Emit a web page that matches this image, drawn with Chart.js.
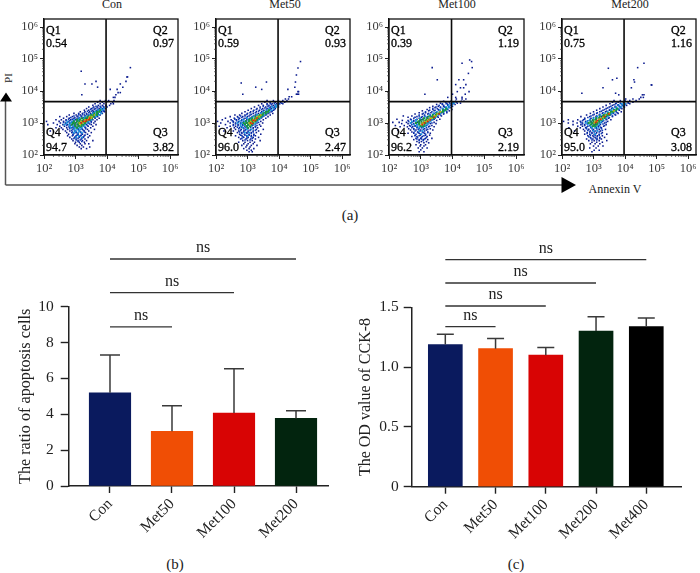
<!DOCTYPE html>
<html>
<head>
<meta charset="utf-8">
<script src="https://cdn.jsdelivr.net/npm/chart.js@4"></script>
<style>
html, body { margin: 0; padding: 0; background: #fff; }
body { width: 700px; height: 573px; position: relative; overflow: hidden; font-family: "Liberation Serif", serif; color: #222; }
canvas { position: absolute; }
.txt { position: absolute; white-space: nowrap; transform: translate(-50%, -50%); }
svg { position: absolute; left: 0; top: 0; }
</style>
</head>
<body>
<svg width="700" height="573">
  <path d="M5.5 185 V100 M5.5 185 H562" fill="none" stroke="#555" stroke-width="1.5"/>
  <path d="M6 92.5 L12 101.5 L0 101.5 Z M576 185 L561.5 177 L561.5 193 Z" fill="#000"/>
</svg>
<div class="txt" style="left:112px;top:4px;font-size:12px">Con</div>
<div class="txt" style="left:285px;top:4px;font-size:12px">Met50</div>
<div class="txt" style="left:457px;top:4px;font-size:12px">Met100</div>
<div class="txt" style="left:630px;top:4px;font-size:12px">Met200</div>
<div class="txt" style="left:8px;top:78px;font-size:11px;transform:translate(-50%,-50%) rotate(-90deg)">PI</div>
<div class="txt" style="left:615px;top:189px;font-size:12px">Annexin V</div>
<div class="txt" style="left:350px;top:215px;font-size:15px">(a)</div>
<div class="txt" style="left:175px;top:564px;font-size:15px">(b)</div>
<div class="txt" style="left:516px;top:564px;font-size:15px">(c)</div>

<canvas id="flow0"></canvas>
<canvas id="flow1"></canvas>
<canvas id="flow2"></canvas>
<canvas id="flow3"></canvas>
<canvas id="ratioChart"></canvas>
<canvas id="odChart"></canvas>

<script>
const ratioCats = ["Con", "Met50", "Met100", "Met200"];
const ratioVals = [5.2, 3.05, 4.07, 3.77];
const ratioErrTop = [7.3, 4.48, 6.54, 4.2];
const ratioBrackets = [[0, 1, 8.88], [0, 2, 10.78], [0, 3, 12.66]];

const odCats = ["Con", "Met50", "Met100", "Met200", "Met400"];
const odVals = [1.188, 1.154, 1.1, 1.302, 1.338];
const odErrTop = [1.274, 1.24, 1.163, 1.422, 1.41];
const odBrackets = [[0, 1, 1.338], [0, 2, 1.511], [0, 3, 1.703], [0, 4, 1.898]];

const barColors = ["#0a1a5e", "#f04e05", "#d80404", "#02240e", "#000000"];

const quadCon = ["0.54", "0.97", "94.7", "3.82"];
const quad50 = ["0.59", "0.93", "96.0", "2.47"];
const quad100 = ["0.39", "1.19", "96.2", "2.19"];
const quad200 = ["0.75", "1.16", "95.0", "3.08"];

const gateX = [9300, 9300, 9300, 9300];
const gateY = [4650, 4650, 4650, 4650];
const flowTicks = [1e2, 1e3, 1e4, 1e5, 1e6];
const flowTickText = ["10\u00B2", "10\u00B3", "10\u2074", "10\u2075", "10\u2076"];

const conBlue = [
[4.73,4.74],[4.62,3.18],[4.44,4.63,4.65],[4.3,3.65,4.6],[4.22,3.3,3.52,4.42],[4.12,3.7,4.5],[4.05,4.32,4.1],[3.95,4.35,4.42],[3.88,3.2,4.28],[3.8,4.25,4.2],
[3.7,3.78,3.95,4.05,4.22],[3.65,3.7,3.85,3.98,4.18],[3.6,3.62,3.78,3.9,4.12,4.2],[3.55,3.55,3.72,3.85,3.96,4.08],[3.5,3.42,3.58,3.7,3.8,3.9,4.0],
[3.45,3.35,3.5,3.62,3.75,3.85,3.95],[3.4,3.28,3.42,3.55,3.68,3.8,3.9],[3.35,3.15,3.3,3.45,3.58,3.7,3.82,3.92],[3.3,2.95,3.1,3.22,3.35,3.48,3.6,3.72,3.85],
[3.25,2.8,3.02,3.15,3.28,3.4,3.52,3.65,3.78],[3.2,2.5,2.72,2.9,3.05,3.18,3.3,3.45,3.58,3.7],[3.15,2.62,2.8,2.95,3.08,3.22,3.35,3.5,3.62,3.75],
[3.1,2.38,2.55,2.7,2.85,3.0,3.12,3.28,3.42,3.55,3.68],[3.05,2.08,2.48,2.62,2.78,2.92,3.05,3.2,3.35,3.5,3.62],[3.0,2.3,2.52,2.68,2.82,2.98,3.12,3.28,3.42,3.58],
[2.95,2.12,2.42,2.6,2.75,2.9,3.05,3.2,3.35,3.5,3.65],[2.9,2.5,2.65,2.8,2.95,3.1,3.25,3.4,3.55],[2.85,2.38,2.55,2.72,2.88,3.02,3.18,3.32,3.48],
[2.8,2.6,2.75,2.92,3.08,3.22,3.38,3.6],[2.75,2.2,2.68,2.82,2.98,3.12,3.28,3.42],[2.7,2.72,2.88,3.02,3.18,3.32,3.5],[2.65,2.78,2.92,3.08,3.22,3.38],
[2.6,2.75,2.9,3.02,3.15,3.28,3.45],[2.55,2.82,2.98,3.12,3.25,3.4],[2.5,2.88,3.02,3.18,3.3],[2.45,2.92,3.08,3.22,3.35,3.55],[2.4,3.0,3.12,3.28],
[2.35,2.98,3.15,3.3,3.42],[2.3,3.05,3.2],[2.25,3.12,3.25,3.45],[2.2,3.18,3.35]];
const conMid = [[3.52,3.65,3.78,3.88,3.98],[3.47,3.55,3.68,3.8,3.9],[3.42,3.48,3.6,3.72,3.85],[3.37,3.38,3.52,3.65,3.78,3.88],[3.32,3.28,3.42,3.55,3.68,3.8],
[3.27,3.1,3.22,3.35,3.48,3.6,3.72],[3.22,2.95,3.08,3.2,3.32,3.42,3.55,3.68],[3.17,2.85,2.98,3.12,3.25,3.38,3.5,3.62],[3.12,2.78,2.9,3.02,3.15,3.28,3.4,3.52],
[3.07,2.7,2.82,2.95,3.08,3.22,3.35,3.48],[3.02,2.62,2.75,2.88,3.02,3.15,3.28,3.4,3.5],[2.97,2.7,2.82,2.95,3.08,3.2,3.32,3.45],[2.92,2.72,2.85,2.98,3.12,3.25,3.38],
[2.87,2.8,2.92,3.05,3.18,3.3],[2.82,2.82,2.95,3.08,3.2,3.32],[2.77,2.88,3.0,3.12,3.25],[2.72,2.9,3.02,3.15,3.28],[2.67,2.95,3.08,3.2],[2.62,2.92,3.05,3.18,3.3],
[2.57,3.0,3.12,3.25],[2.52,2.95,3.08,3.2],[2.47,3.02,3.15],[2.42,3.08,3.2]];
const conCyan = [[3.45,3.82,3.9],[3.4,3.72,3.85],[3.35,3.62,3.78],[3.3,3.55,3.7,3.82],[3.25,3.45,3.62,3.75],[3.2,3.3,3.52,3.65],[3.15,3.12,3.28,3.45],[3.1,2.95,3.08,3.5],
[3.05,2.75,2.88,3.42],[3.0,2.72,2.85,3.38],[2.95,2.65,2.8,3.3],[2.9,2.82,2.92,3.25],[2.85,2.85,2.98,3.12,3.2],[2.8,2.95,3.05,3.15],[2.75,3.0,3.12],[2.7,2.95,3.08,3.2],[2.6,3.1],[2.55,3.02,3.2]];
const conGreen = [[3.4,3.78],[3.35,3.68,3.75],[3.3,3.6,3.68],[3.25,3.5,3.58,3.68],[3.2,3.38,3.48,3.58],[3.15,3.2,3.32,3.4,3.52],[3.1,3.05,3.15,3.25,3.35,3.45],
[3.05,2.95,3.05,3.12,3.22,3.35],[3.0,2.92,3.0,3.1,3.2,3.3],[2.95,2.88,2.98,3.08,3.18,3.25],[2.9,3.0,3.1,3.18],[2.85,3.05]];
const conYellow = [[3.25,3.6],[3.2,3.45,3.52],[3.15,3.42,3.5],[3.1,3.3,3.38],[3.05,3.18,3.28],[3.0,3.12,3.22],[2.95,3.15]];
const conRed = [[3.15,3.45],[3.1,3.35,3.42],[3.05,3.25,3.32],[3.0,3.18]];

const m50Blue = [
[4.92,4.68],[4.72,4.6],[4.5,4.55],[4.28,3.6,4.52],[4.25,2.8],[4.12,3.26,4.5],[4.05,3.45,4.28],[3.98,4.6,4.62],[3.9,2.85,4.62,4.58,4.55],[3.82,4.32,4.4],[3.75,4.2,4.3],
[3.7,3.62,3.82,3.98,4.12,4.25],[3.65,3.55,3.72,3.88,4.05,4.18],[3.6,3.45,3.62,3.78,3.92,4.02,4.12],[3.55,3.35,3.5,3.68,3.82,3.95],[3.5,3.22,3.4,3.58,3.72,3.85,3.98],
[3.45,3.12,3.3,3.48,3.62,3.75,3.88],[3.4,3.02,3.2,3.38,3.52,3.68,3.82],[3.35,2.92,3.1,3.28,3.45,3.6,3.75],[3.3,2.82,3.0,3.18,3.35,3.5,3.65,3.8],
[3.25,2.6,2.75,2.92,3.08,3.25,3.42,3.58,3.72],[3.2,2.45,2.68,2.85,3.0,3.15,3.32,3.48,3.65],[3.15,2.3,2.58,2.75,2.92,3.08,3.25,3.42,3.58],
[3.1,2.2,2.48,2.65,2.82,2.98,3.15,3.32,3.5],[3.05,2.05,2.38,2.55,2.72,2.88,3.05,3.22,3.42],[3.0,2.15,2.45,2.62,2.78,2.95,3.12,3.3,3.48],
[2.95,2.3,2.55,2.7,2.85,3.02,3.18,3.38],[2.9,2.1,2.45,2.62,2.78,2.92,3.08,3.25,3.42],[2.85,2.35,2.58,2.75,2.88,3.02,3.18,3.32],[2.8,2.62,2.8,2.95,3.1,3.28,3.5],
[2.75,2.25,2.55,2.72,2.88,3.02,3.18,3.35],[2.7,2.68,2.82,2.98,3.12,3.28],[2.65,2.75,2.9,3.05,3.2,3.42],[2.6,2.62,2.82,2.98,3.12,3.25],[2.55,2.72,2.88,3.02,3.18,3.35],
[2.5,2.78,2.95,3.1,3.25],[2.45,2.85,3.0,3.15,3.4],[2.4,2.72,2.92,3.08,3.22],[2.35,2.88,3.02,3.18],[2.3,2.82,2.98,3.12,3.3],[2.25,2.95,3.08],[2.2,2.88,3.05,3.2],[2.15,2.98,3.12],[2.1,3.05,3.15]];
const m50Mid = [[3.62,3.72,3.85,3.98,4.08],[3.57,3.62,3.75,3.88,3.98],[3.52,3.5,3.65,3.78,3.9],[3.47,3.4,3.55,3.7,3.82],[3.42,3.28,3.45,3.6,3.72,3.85],[3.37,3.18,3.35,3.5,3.65,3.78],
[3.32,3.08,3.25,3.42,3.55,3.7],[3.27,2.98,3.12,3.3,3.45,3.6],[3.22,2.78,2.92,3.05,3.2,3.38,3.52],[3.17,2.7,2.82,2.98,3.12,3.3,3.45],[3.12,2.6,2.72,2.88,3.05,3.22,3.38],
[3.07,2.52,2.65,2.8,2.95,3.12,3.3],[3.02,2.55,2.7,2.85,3.0,3.18,3.35],[2.97,2.62,2.78,2.92,3.08,3.25],[2.92,2.55,2.7,2.85,3.0,3.15,3.3],[2.87,2.68,2.82,2.95,3.1,3.25],
[2.82,2.72,2.88,3.02,3.18],[2.77,2.78,2.92,3.08,3.25],[2.72,2.75,2.88,3.02,3.18],[2.67,2.82,2.98,3.12],[2.62,2.78,2.92,3.05,3.2],[2.57,2.85,2.98,3.12],[2.52,2.82,2.98,3.15],[2.47,2.92,3.08]];
const m50Cyan = [[3.6,3.98],[3.55,3.88,3.95],[3.5,3.78,3.9],[3.45,3.68,3.82],[3.4,3.6,3.75],[3.35,3.5,3.68],[3.3,3.42,3.6],[3.25,3.3,3.52],[3.2,3.18,3.45],[3.15,2.98,3.12,3.4],
[3.1,2.85,3.02,3.35],[3.05,2.75,2.9,3.3],[3.0,2.68,2.82,3.25],[2.95,2.78,2.88,3.2],[2.9,2.78,2.95,3.12],[2.85,2.85,3.0],[2.8,2.98,3.12],[2.7,2.92,3.05],[2.6,3.0]];
const m50Green = [[3.4,3.68],[3.35,3.58,3.65],[3.3,3.5,3.58],[3.25,3.38,3.48],[3.2,3.25,3.35,3.42],[3.15,3.15,3.25,3.35],[3.1,3.05,3.12,3.22,3.3],[3.05,2.95,3.05,3.15,3.25],
[3.0,2.88,2.98,3.08,3.18],[2.95,2.92,3.02,3.12],[2.9,2.98,3.08],[2.85,3.02]];
const m50Yellow = [[3.25,3.42],[3.2,3.32,3.38],[3.15,3.28],[3.1,3.18,3.25],[3.05,3.1,3.2],[3.0,3.05,3.12],[2.95,3.08]];
const m50Red = [[3.15,3.3],[3.08,3.18,3.25],[3.0,3.1],[2.98,3.16]];

const m100Blue = [
[4.97,4.54],[4.92,4.6],[4.87,4.3],[4.73,3.36,4.62],[4.55,4.5],[4.35,3.52,4.2,4.35],[4.2,4.1,4.42],[4.1,4.25,4.35],[3.98,4.15,4.52],[3.9,3.13,4.0,4.4],[3.8,3.85,4.1,4.3],[3.75,4.12,4.3,4.42],
[3.68,3.72,3.95,4.1,4.28,4.36],[3.62,3.62,3.82,3.98,4.15,4.25],[3.58,3.5,3.68,3.85,3.98,4.08],[3.52,3.38,3.55,3.72,3.88,4.0],[3.48,3.28,3.45,3.62,3.78,3.92],
[3.42,3.2,3.38,3.55,3.7,3.85,3.98],[3.38,3.05,3.25,3.42,3.58,3.75,3.9],[3.32,2.95,3.15,3.32,3.48,3.65,3.82],[3.28,2.82,3.05,3.22,3.4,3.55,3.72],
[3.22,2.45,2.72,2.95,3.12,3.3,3.48,3.65],[3.18,2.6,2.82,3.02,3.2,3.38,3.55],[3.12,2.25,2.68,2.88,3.05,3.25,3.42,3.6],[3.08,2.42,2.6,2.78,2.98,3.15,3.32,3.5],
[3.02,2.12,2.32,2.55,2.72,2.9,3.08,3.25,3.42],[2.98,2.4,2.6,2.78,2.95,3.12,3.3,3.48],[2.92,2.2,2.48,2.65,2.82,3.0,3.18,3.35],[2.88,2.35,2.58,2.75,2.9,3.05,3.25,3.42],
[2.82,2.62,2.78,2.95,3.12,3.3],[2.78,2.28,2.68,2.85,3.0,3.18,3.38],[2.72,2.72,2.9,3.05,3.22],[2.68,2.6,2.78,2.95,3.12,3.3],[2.62,2.82,2.98,3.15,3.28],[2.58,2.72,2.88,3.05,3.2],
[2.52,2.85,3.0,3.15,3.35],[2.48,2.78,2.95,3.08,3.22],[2.42,2.88,3.02,3.18],[2.38,2.95,3.1,3.25],[2.32,2.85,3.0,3.15],[2.28,2.98,3.1],[2.22,2.92,3.05,3.2],[2.16,3.0],[2.1,2.95,3.1]];
const m100Mid = [[3.65,3.78,3.9,4.02,4.12],[3.6,3.68,3.8,3.92,4.02],[3.55,3.58,3.72,3.85,3.95],[3.5,3.48,3.62,3.75,3.88],[3.45,3.38,3.52,3.68,3.82],[3.4,3.28,3.45,3.6,3.75],[3.35,3.15,3.35,3.5,3.68,3.82],
[3.3,3.08,3.25,3.42,3.58,3.72],[3.25,2.95,3.12,3.3,3.48,3.62],[3.2,2.88,3.05,3.22,3.4,3.52],[3.15,2.78,2.95,3.12,3.3,3.45],[3.1,2.7,2.85,3.02,3.2,3.38],[3.05,2.62,2.78,2.95,3.12,3.3],
[3.0,2.68,2.85,3.02,3.2,3.35],[2.95,2.72,2.88,3.05,3.22],[2.9,2.68,2.82,2.98,3.12,3.28],[2.85,2.72,2.88,3.02,3.18],[2.8,2.78,2.92,3.08,3.22],[2.75,2.82,2.98,3.12],[2.7,2.78,2.92,3.08,3.22],
[2.65,2.85,3.0,3.15],[2.6,2.82,2.95,3.1],[2.55,2.9,3.02,3.18],[2.5,2.88,3.02,3.12],[2.45,2.95,3.08]];
const m100Cyan = [[3.62,3.98,4.05],[3.55,3.88,3.98],[3.5,3.8,3.9],[3.45,3.7,3.85],[3.4,3.6,3.78],[3.35,3.5,3.72],[3.3,3.4,3.62],[3.25,3.28,3.55],[3.2,3.15,3.48],[3.15,2.98,3.42],
[3.1,2.85,3.35],[3.05,2.72,2.85,3.3],[3.0,2.68,3.25],[2.95,2.78,2.9,3.2],[2.9,2.88,3.02,3.15],[2.85,2.95,3.08],[2.75,2.95,3.05],[2.65,3.02]];
const m100Green = [[3.45,3.8],[3.4,3.7,3.78],[3.35,3.62,3.7],[3.3,3.5,3.58],[3.25,3.38,3.48],[3.2,3.25,3.35,3.45],[3.15,3.1,3.2,3.32,3.4],[3.1,2.98,3.08,3.18,3.28],
[3.05,2.92,3.02,3.12,3.22],[3.0,2.85,2.95,3.05,3.15],[2.95,2.95,3.05,3.12],[2.9,3.0,3.08]];
const m100Yellow = [[3.35,3.62],[3.28,3.52],[3.22,3.42,3.48],[3.15,3.3,3.35],[3.1,3.22,3.28],[3.05,3.12,3.18],[3.0,3.05,3.1],[2.95,3.02]];
const m100Red = [[3.28,3.58],[3.18,3.42],[3.1,3.3],[3.05,3.22],[3.0,3.12],[2.95,3.05]];

const m200Blue = [
[4.87,4.6],[4.73,4.4],[4.71,3.47],[4.4,3.74],[4.35,4.28,3.6],[4.28,4.3],[4.19,4.83,4.85],[4.1,3.3,4.2],[3.93,2.63,3.7],[3.88,4.6,4.55,3.8],[3.8,4.5,4.58],[3.75,4.02,4.25,4.45],
[3.7,3.65,3.85,4.0,4.15,4.35],[3.65,3.6,3.78,3.95,4.1,4.25],[3.6,3.52,3.7,3.88,4.02,4.15],[3.55,3.4,3.6,3.78,3.92,4.05],[3.5,3.3,3.5,3.68,3.85,3.98],
[3.45,3.2,3.4,3.58,3.75,3.9],[3.4,3.1,3.3,3.5,3.65,3.82],[3.35,3.0,3.2,3.38,3.55,3.72,3.88],[3.3,2.9,3.1,3.28,3.45,3.62,3.78],
[3.25,2.78,2.98,3.18,3.35,3.52,3.7],[3.2,2.6,2.88,3.08,3.25,3.42,3.6],[3.15,2.72,2.92,3.1,3.28,3.48],[3.1,2.2,2.5,2.68,2.88,3.05,3.22,3.4,3.55],
[3.05,2.05,2.35,2.58,2.75,2.92,3.1,3.28,3.45],[3.0,2.2,2.48,2.65,2.82,3.0,3.18,3.35],[2.95,2.35,2.6,2.72,2.9,3.05,3.22,3.4],[2.9,2.5,2.65,2.82,2.98,3.15,3.32],
[2.85,2.22,2.58,2.75,2.92,3.08,3.25],[2.8,2.68,2.85,3.0,3.18,3.38],[2.75,2.4,2.72,2.9,3.05,3.22],[2.7,2.8,2.95,3.1,3.28],[2.65,2.72,2.88,3.02,3.18,3.42],[2.6,2.82,2.98,3.12,3.28],
[2.55,2.9,3.05,3.2,3.35],[2.5,2.78,2.98,3.12,3.25],[2.45,2.85,3.02,3.18,3.42],[2.4,2.95,3.1,3.28],[2.35,2.9,3.05,3.2],[2.28,3.0,3.15,3.3],[2.22,2.88,3.08],[2.15,3.02,3.18],[2.1,2.95]];
const m200Mid = [[3.62,3.72,3.85,3.98,4.1],[3.57,3.65,3.78,3.9,4.0],[3.52,3.55,3.7,3.82,3.95],[3.47,3.45,3.6,3.72,3.85],[3.42,3.35,3.52,3.65,3.8],[3.37,3.25,3.42,3.58,3.72],
[3.32,3.12,3.3,3.48,3.62,3.75],[3.27,3.02,3.2,3.38,3.55,3.68],[3.22,2.92,3.1,3.28,3.45,3.6],[3.17,2.82,3.0,3.18,3.35,3.5],[3.12,2.72,2.9,3.08,3.25,3.42],[3.07,2.65,2.82,2.98,3.15,3.32],
[3.02,2.6,2.75,2.92,3.08,3.25,3.4],[2.97,2.65,2.8,2.98,3.12,3.3],[2.92,2.72,2.88,3.02,3.18,3.35],[2.87,2.78,2.92,3.08,3.22],[2.82,2.78,2.95,3.1,3.25],[2.77,2.82,2.98,3.12,3.28],
[2.72,2.88,3.02,3.18],[2.67,2.8,2.95,3.08,3.25],[2.62,2.9,3.05,3.18],[2.57,2.85,3.0,3.12],[2.52,2.92,3.08,3.2],[2.47,2.95,3.1]];
const m200Cyan = [[3.6,3.9,4.0],[3.55,3.82,3.95],[3.5,3.72,3.88],[3.45,3.62,3.8],[3.4,3.55,3.72],[3.35,3.45,3.65],[3.3,3.35,3.58],[3.25,3.22,3.5],[3.2,3.12,3.45],[3.15,3.0,3.38],
[3.1,2.88,3.3],[3.05,2.8,3.25],[3.0,2.75,3.22],[2.95,2.82,3.18],[2.9,2.9,3.1],[2.85,2.95,3.05,3.15],[2.75,3.0,3.12],[2.65,3.05]];
const m200Green = [[3.45,3.75],[3.4,3.65,3.72],[3.35,3.55,3.62],[3.3,3.45,3.52],[3.25,3.32,3.42,3.5],[3.2,3.2,3.3,3.38],[3.15,3.08,3.18,3.28,3.35],[3.1,2.98,3.08,3.18,3.25],
[3.05,2.9,3.0,3.08,3.18],[3.0,2.85,2.95,3.05,3.12],[2.95,2.92,3.02,3.1],[2.9,2.98,3.05]];
const m200Yellow = [[3.38,3.65],[3.3,3.5],[3.25,3.38],[3.18,3.3],[3.12,3.18,3.25],[3.05,3.05,3.12],[3.0,3.02]];
const m200Red = [[3.28,3.48],[3.2,3.35],[3.12,3.22],[3.08,3.12],[3.02,3.08]];

const panels = [
  { id: "flow0", left: 44, width: 136.5, quad: quadCon, layers: [conBlue, conMid, conCyan, conGreen, conYellow, conRed] },
  { id: "flow1", left: 216, width: 136.5, quad: quad50, layers: [m50Blue, m50Mid, m50Cyan, m50Green, m50Yellow, m50Red] },
  { id: "flow2", left: 388.7, width: 137, quad: quad100, layers: [m100Blue, m100Mid, m100Cyan, m100Green, m100Yellow, m100Red] },
  { id: "flow3", left: 562, width: 136.5, quad: quad200, layers: [m200Blue, m200Mid, m200Cyan, m200Green, m200Yellow, m200Red] },
];
const layerColors = ["#0a1a8e", "#0f3cb8", "#1a98e0", "#169a3c", "#c8b810", "#e81e0c"];
const layerSizes = [1.1, 1.15, 1.25, 1.4, 1.15, 1.15];

function rowsToPoints(rows) {
  const pts = [];
  rows.forEach((r) => {
    for (let i = 1; i < r.length; i++) pts.push({ x: Math.pow(10, r[i]), y: Math.pow(10, r[0]) });
  });
  return pts;
}

// frame, log minor ticks and the Q1-Q4 text
function flowPlugin(quad) {
  return {
    id: "flowDeco",
    afterDatasetsDraw(chart) {
      const c = chart.ctx, a = chart.chartArea, sx = chart.scales.x, sy = chart.scales.y;
      c.save();
      c.strokeStyle = "#111";
      c.lineWidth = 1.3;
      c.strokeRect(a.left, a.top, a.right - a.left, a.bottom - a.top);
      c.lineWidth = 0.7;
      c.strokeStyle = "#333";
      for (let e = 2; e < 6; e++) {
        for (let m = 2; m < 10; m++) {
          const px = sx.getPixelForValue(m * Math.pow(10, e));
          const py = sy.getPixelForValue(m * Math.pow(10, e));
          c.beginPath();
          c.moveTo(px, a.bottom);
          c.lineTo(px, a.bottom + 2);
          c.moveTo(a.left, py);
          c.lineTo(a.left - 2, py);
          c.stroke();
        }
      }
      c.fillStyle = "#000";
      c.strokeStyle = "#000";
      c.lineWidth = 0.3;
      c.font = "12px 'Liberation Serif'";
      c.textBaseline = "middle";
      const lx = a.left + 2, rx = a.left + 109;
      const put = (t, x, y) => { c.fillText(t, x, y); c.strokeText(t, x, y); };
      put("Q1", lx, a.top + 12);
      put(quad[0], lx, a.top + 25);
      put("Q2", rx, a.top + 12);
      put(quad[1], rx, a.top + 25);
      put("Q4", lx, a.top + 114);
      put(quad[2], lx, a.top + 129);
      put("Q3", rx, a.top + 114);
      put(quad[3], rx, a.top + 129);
      c.restore();
    },
  };
}

function noPadding(s) {
  s.paddingLeft = 0;
  s.paddingRight = 0;
  s.paddingTop = 0;
  s.paddingBottom = 0;
}

function makeFlow(p, i) {
  const top = 19, height = 136;
  const el = document.getElementById(p.id);
  const cLeft = p.left - 36;
  const cW = Math.min(700 - cLeft, p.width + 36 + 2);
  el.width = cW;
  el.height = 180;
  el.style.left = cLeft + "px";
  el.style.top = top - 4 + "px";
  // lower order is painted later in Chart.js, so the hot colours sit on top
  const datasets = p.layers.map((rows, k) => ({
    type: "scatter",
    data: rowsToPoints(rows),
    backgroundColor: layerColors[k],
    borderWidth: 0,
    pointStyle: "rect",
    pointRadius: layerSizes[k],
    order: p.layers.length - k,
  }));
  datasets.push({ type: "scatter", showLine: true, order: 0, data: [{ x: gateX[i], y: 100 }, { x: gateX[i], y: 1.8e6 }], borderColor: "#0a0a0a", borderWidth: 1.6, pointRadius: 0 });
  datasets.push({ type: "scatter", showLine: true, order: 0, data: [{ x: 100, y: gateY[i] }, { x: 1.8e6, y: gateY[i] }], borderColor: "#0a0a0a", borderWidth: 1.6, pointRadius: 0 });
  const logAxis = () => ({
    type: "logarithmic",
    min: 100,
    max: Math.pow(10, 6.25),
    afterBuildTicks(s) { s.ticks = flowTicks.map((v) => ({ value: v })); },
    grid: { drawOnChartArea: false, tickLength: 4, tickColor: "#222", tickWidth: 1 },
    border: { color: "#111", width: 1.3 },
    ticks: {
      autoSkip: false,
      maxRotation: 0,
      minRotation: 0,
      padding: 2,
      color: "#3a3a3a",
      font: { family: "Liberation Serif", size: 12.5 },
      callback: (v) => flowTickText[flowTicks.indexOf(v)],
    },
  });
  const xAxis = logAxis();
  xAxis.afterFit = (s) => { s.height = 180 - 4 - height; noPadding(s); };
  const yAxis = logAxis();
  yAxis.afterFit = (s) => { s.width = 36; noPadding(s); };
  new Chart(el, {
    type: "scatter",
    data: { datasets },
    options: {
      responsive: false,
      animation: false,
      events: [],
      layout: { padding: { top: 4, right: cW - 36 - p.width, left: 0, bottom: 0 } },
      plugins: { legend: { display: false }, tooltip: { enabled: false } },
      scales: { x: xAxis, y: yAxis },
    },
    plugins: [flowPlugin(p.quad)],
  });
}
panels.forEach(makeFlow);

// error bars and "ns" labels for the bar charts
function barPlugin(errTop, brackets) {
  return {
    id: "barDeco",
    afterDatasetsDraw(chart) {
      const c = chart.ctx, sx = chart.scales.x, sy = chart.scales.y;
      c.save();
      c.strokeStyle = "#3a3a3a";
      c.lineWidth = 1.5;
      errTop.forEach((t, i) => {
        const x = sx.getPixelForValue(i);
        const hw = chart.options.capHalf;
        c.beginPath();
        c.moveTo(x, sy.getPixelForValue(chart.data.datasets[0].data[i].y));
        c.lineTo(x, sy.getPixelForValue(t));
        c.moveTo(x - hw, sy.getPixelForValue(t));
        c.lineTo(x + hw, sy.getPixelForValue(t));
        c.stroke();
      });
      c.fillStyle = "#222";
      c.font = "16px 'Liberation Serif'";
      c.textAlign = "center";
      c.textBaseline = "middle";
      brackets.forEach((b) => {
        c.fillText("ns", sx.getPixelForValue((b[0] + b[1]) / 2), sy.getPixelForValue(b[2]) - 11);
      });
      c.restore();
    },
  };
}

function makeBars(id, o) {
  const el = document.getElementById(id);
  el.width = o.w;
  el.height = 343;
  el.style.left = o.canvasLeft + "px";
  el.style.top = "230px";
  const datasets = [{
    type: "bar",
    data: o.cats.map((c, i) => ({ x: i, y: o.vals[i] })),
    backgroundColor: o.cats.map((c, i) => barColors[i]),
    barThickness: o.barW,
  }];
  o.brackets.forEach((b) => {
    datasets.push({
      type: "line",
      data: [{ x: b[0], y: b[2] }, { x: b[1], y: b[2] }],
      borderColor: "#333",
      borderWidth: 1.3,
      pointRadius: 0,
      clip: false,
    });
  });
  const font = { family: "Liberation Serif", size: 15.5 };
  new Chart(el, {
    data: { datasets },
    options: {
      responsive: false,
      animation: false,
      events: [],
      capHalf: o.cap,
      layout: { padding: { top: o.areaTop - 230, right: o.w - o.areaRight + o.canvasLeft, left: 0, bottom: 0 } },
      plugins: { legend: { display: false }, tooltip: { enabled: false } },
      scales: {
        x: {
          type: "linear",
          offset: false,
          min: o.xMin,
          max: o.xMax,
          afterBuildTicks(s) { s.ticks = o.cats.map((c, i) => ({ value: i })); },
          afterFit(s) { s.height = 573 - o.areaBottom; noPadding(s); },
          grid: { offset: false, drawOnChartArea: false, tickLength: 7, tickColor: "#222", tickWidth: 1.4 },
          border: { color: "#222", width: 1.5 },
          ticks: { autoSkip: false, minRotation: 45, maxRotation: 45, padding: 2, color: "#222", font, callback: (v) => o.cats[v] },
        },
        y: {
          min: 0,
          max: o.yMax,
          afterFit(s) { s.width = o.areaLeft - o.canvasLeft; noPadding(s); },
          title: { display: true, text: o.title, color: "#222", font: { family: "Liberation Serif", size: o.titleSize }, padding: { top: 0, bottom: 0 } },
          grid: { drawOnChartArea: false, tickLength: 8, tickColor: "#222", tickWidth: 1.4 },
          border: { color: "#222", width: 1.5 },
          ticks: { stepSize: o.step, padding: o.tickPad, color: "#222", font, callback: o.fmt },
        },
      },
    },
    plugins: [barPlugin(o.err, o.brackets)],
  });
}

makeBars("ratioChart", {
  canvasLeft: 16, w: 324, areaLeft: 68.7, areaRight: 328, areaTop: 306.7, areaBottom: 486,
  xMin: -0.666, xMax: 3.516, yMax: 10, step: 2, barW: 41.5, cap: 10, titleSize: 16.2, tickPad: 7,
  cats: ratioCats, vals: ratioVals, err: ratioErrTop, brackets: ratioBrackets,
  title: "The ratio of apoptosis cells", fmt: (v) => String(v),
});
makeBars("odChart", {
  canvasLeft: 356, w: 340, areaLeft: 411.7, areaRight: 681.7, areaTop: 307.3, areaBottom: 486.7,
  xMin: -0.669, xMax: 4.705, yMax: 1.5, step: 0.5, barW: 34, cap: 8.5, titleSize: 16, tickPad: 5,
  cats: odCats, vals: odVals, err: odErrTop, brackets: odBrackets,
  title: "The OD value of CCK-8", fmt: (v) => (v === 0 ? "0" : v.toFixed(1)),
});
</script>
</body>
</html>
